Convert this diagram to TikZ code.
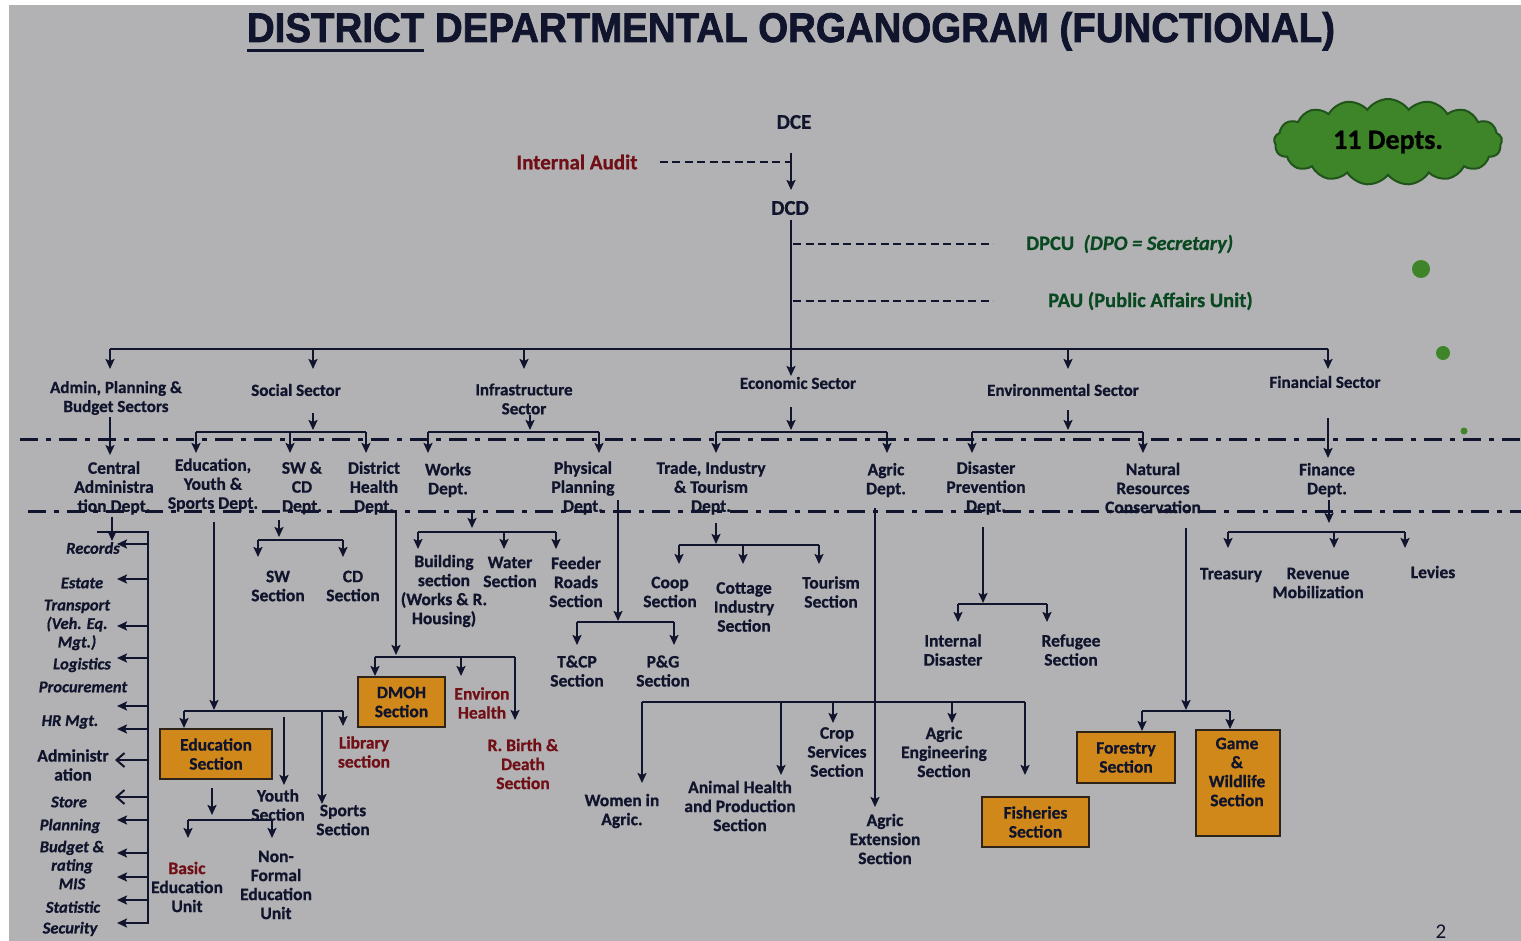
\documentclass[tikz,border=0pt]{standalone}
\usepackage{fontspec}
\usepackage{graphicx}
\setmainfont{Carlito}[BoldFeatures={FakeBold=0.8}, BoldItalicFeatures={FakeBold=0.8}]
\newfontfamily\headfont{Liberation Sans}[BoldFeatures={FakeBold=1.8}]
\usetikzlibrary{arrows.meta,shapes.symbols}

\definecolor{ink}{RGB}{16,20,44}
\definecolor{bg}{RGB}{178,178,180}
\definecolor{boxor}{RGB}{208,136,26}
\definecolor{boxedge}{RGB}{45,35,25}
\definecolor{redtx}{RGB}{112,16,22}
\definecolor{grntx}{RGB}{10,72,34}
\definecolor{cloudg}{RGB}{62,132,40}
\definecolor{cloude}{RGB}{32,84,26}

% underline used for the first word of the heading
\newcommand{\ulword}[1]{\setbox0\hbox{#1}\rlap{\rule[-9.5pt]{\wd0}{3pt}}\box0\relax}

\tikzset{
  lbl/.style={font=\fontsize{17.5}{19}\selectfont\bfseries, text=ink, align=center, inner sep=0pt},
  seclbl/.style={font=\fontsize{17}{19}\selectfont\bfseries, text=ink, align=center, inner sep=0pt},
  itm/.style={font=\fontsize{16.5}{18.5}\selectfont\bfseries\itshape, text=ink, align=center, inner sep=0pt},
  redlbl/.style={lbl, text=redtx},
  hdr/.style={font=\fontsize{21}{24}\selectfont\bfseries, text=ink, inner sep=0pt},
  grn/.style={font=\fontsize{20.5}{22}\selectfont\bfseries, text=grntx, inner sep=0pt, anchor=west},
  obox/.style={lbl, fill=boxor, draw=boxedge, line width=2pt},
  conn/.style={draw=ink, line width=2pt},
  arr/.style={conn, -{Stealth[length=10pt,width=9pt,inset=2pt]}},
  barb/.style={conn, -{Straight Barb[length=8pt,width=14pt]}},
  dsh/.style={draw=ink, line width=2.5pt, dash pattern=on 8pt off 4.5pt},
  sepline/.style={draw=ink, line width=3pt, dash pattern=on 18pt off 8pt on 5pt off 8pt},
}

\begin{document}
\begin{tikzpicture}[x=1pt,y=-1pt]
\useasboundingbox (0,0) rectangle (1521,941);
\fill[white] (0,0) rectangle (1521,941);
\fill[bg] (9,5) rectangle (1521,941);

% level separators
\draw[sepline] (20,439) -- (1521,439);
\draw[sepline] (28,511) -- (1521,511);

% heading
\node[anchor=base, inner sep=0pt, text=ink] (title) at (791,42)
  {\resizebox{1088pt}{30pt}{\headfont\bfseries\fontsize{40}{44}\selectfont\ulword{DISTRICT} DEPARTMENTAL ORGANOGRAM (FUNCTIONAL)}};

% cloud and dots
\node[cloud, cloud puffs=17, cloud puff arc=110, aspect=2.6, minimum width=228pt, minimum height=86pt,
      fill=cloudg, draw=cloude, line width=2pt, inner sep=0pt,
      font=\fontsize{28}{30}\selectfont\bfseries, text=black] (depts) at (1388,142) {11 Depts.};
\fill[cloudg] (1421,269) circle (9);
\fill[cloudg] (1443,353) circle (7);
\fill[cloudg] (1464,431) circle (3.5);

% top of the chart
\node[hdr] (dce) at (794,122) {DCE};
\node[hdr] (dcd) at (790,208) {DCD};
\node[hdr, text=redtx] (audit) at (577,162) {Internal Audit};
\node[grn] (dpcu) at (1026,244) {DPCU\ \ \textit{(DPO = Secretary)}};
\node[grn] (pau) at (1048,301) {PAU (Public Affairs Unit)};

\coordinate (ja) at (791,153);
\coordinate (jb) at (791,220);
\coordinate (econtip) at (791,376);
\draw[dsh] ([xshift=22pt]audit.east) -- (audit.east -| ja);
\draw[arr] (ja) -- ++(0,37);
\draw[arr] (jb) -- (econtip);
\draw[dsh] (jb |- dpcu.west) ++(2,0) -- ([xshift=-33pt]dpcu.west);
\draw[dsh] (jb |- pau.west) ++(2,0) -- ([xshift=-55pt]pau.west);

% sectors
\node[seclbl] (admin) at (116,398) {Admin, Planning \&\\Budget Sectors};
\node[seclbl] (social) at (296,390) {Social Sector};
\node[seclbl] (infra) at (524,399) {Infrastructure\\Sector};
\node[seclbl] (econ) at (798,383) {Economic Sector};
\node[seclbl] (env) at (1063,390) {Environmental Sector};
\node[seclbl] (fin) at (1325,382) {Financial Sector};

\coordinate (sbL) at (110,349);
\coordinate (sbR) at (1328,349);
\draw[conn] (sbL) -- (sbR);
\draw[arr] (sbL) -- ++(0,20);
\draw[arr] (313,349) -- ++(0,20);
\draw[arr] (524,349) -- ++(0,20);
\draw[arr] (1068,349) -- ++(0,20);
\draw[arr] (sbR) -- ++(0,20);

% departments
\node[lbl] (central) at (114,488) {Central\\Administra\\tion Dept.};
\node[lbl] (edu) at (213,485) {Education,\\Youth \&\\Sports Dept.};
\node[lbl] (swcd) at (302,488) {SW \&\\CD\\Dept.};
\node[lbl] (dhealth) at (374,488) {District\\Health\\Dept.};
\node[lbl] (works) at (448,480) {Works\\Dept.};
\node[lbl] (phys) at (583,488) {Physical\\Planning\\Dept.};
\node[lbl] (trade) at (711,488) {Trade, Industry\\\& Tourism\\Dept.};
\node[lbl] (agric) at (886,480) {Agric\\Dept.};
\node[lbl] (disaster) at (986,488) {Disaster\\Prevention\\Dept.};
\node[lbl] (natres) at (1153,488) {Natural\\Resources\\Conservation};
\node[lbl] (finance) at (1327,480) {Finance\\Dept.};

% sector to department links
\draw[arr] (admin.south -| sbL) ++(0,2) -- ++(0,38);
\draw[arr] (313,413) -- ++(0,17);
\draw[conn] (196,432) -- (366,432);
\foreach \xx in {196,290,366} \draw[arr] (\xx,432) -- ++(0,21);
\draw[arr] (530,415) -- ++(0,15);
\draw[conn] (428,432) -- (599,432);
\foreach \xx in {428,599} \draw[arr] (\xx,432) -- ++(0,21);
\draw[arr] (791,407) -- ++(0,23);
\draw[conn] (716,432) -- (887,432);
\foreach \xx in {716,887} \draw[arr] (\xx,432) -- ++(0,21);
\draw[arr] (1068,410) -- ++(0,20);
\draw[conn] (972,432) -- (1143,432);
\foreach \xx in {972,1143} \draw[arr] (\xx,432) -- ++(0,21);
\draw[arr] (1328,418) -- ++(0,40);

% central administration units
\node[itm] (records) at (93,548) {Records};
\node[itm] (estate) at (82,583) {Estate};
\node[itm] (transport) at (77,625) {Transport\\(Veh. Eq.\\Mgt.)};
\node[itm] (logistics) at (82,665) {Logistics};
\node[itm] (procure) at (83,687) {Procurement};
\node[itm] (hrmgt) at (70,722) {HR Mgt.};
\node[lbl] (adminis) at (73,765) {Administr\\ation};
\node[itm] (store) at (69,802) {Store};
\node[itm] (planning) at (70,826) {Planning};
\node[itm] (budget) at (72,865) {Budget \&\\rating\\MIS};
\node[itm] (statistic) at (73,907) {Statistic};
\node[itm] (security) at (70,929) {Security};

\coordinate (cspine) at (148,532);
\draw[arr] (central.south -| 112,0) ++(0,2) -- (112,541);
\draw[conn] (97,532) -- (cspine) -- (148,924);
\foreach \yy in {544,579,626,658,706,729,820,853,877,900,923}
  \draw[arr] (148,\yy) -- (117,\yy);
\foreach \yy in {760,797}
  \draw[barb] (148,\yy) -- (115,\yy);

% education, youth and sports
\node[obox, minimum width=112pt, minimum height=50pt] (edubox) at (216,754) {Education\\Section};
\node[redlbl] (library) at (364,752) {Library\\section};
\node[lbl] (youth) at (278,805) {Youth\\Section};
\node[lbl] (sports) at (343,820) {Sports\\Section};
\node[lbl] (basic) at (187,887) {\textcolor{redtx}{Basic}\\Education\\Unit};
\node[lbl] (nonformal) at (276,885) {Non-\\Formal\\Education\\Unit};

\draw[arr] (214,522) -- (214,710);
\draw[conn] (184,711) -- (343,711);
\draw[arr] (184,711) -- (184,711 |- edubox.north);
\draw[arr] (343,711) -- ++(0,15);
\draw[arr] (284,717) -- ++(0,68);
\draw[arr] (322,711) -- ++(0,93);
\draw[arr] (edubox.south -| 212,0) ++(0,8) -- (212,815);
\draw[conn] (188,820) -- (272,820);
\foreach \xx in {188,272} \draw[arr] (\xx,820) -- ++(0,18);

% social welfare and community development
\node[lbl] (swsec) at (278,586) {SW\\Section};
\node[lbl] (cdsec) at (353,586) {CD\\Section};
\draw[arr] (279,520) -- ++(0,17);
\draw[conn] (258,540) -- (343,540);
\foreach \xx in {258,343} \draw[arr] (\xx,540) -- ++(0,17);

% district health
\node[obox, minimum width=87pt, minimum height=50pt] (dmoh) at (401.5,702) {DMOH\\Section};
\node[redlbl] (environ) at (482,703) {Environ\\Health};
\node[redlbl] (rbirth) at (523,764) {R. Birth \&\\Death\\Section};
\draw[arr] (396,511) -- (396,655);
\draw[conn] (375,657) -- (515,657);
\draw[arr] (375,657) -- (375,657 |- dmoh.north);
\draw[arr] (461,657) -- ++(0,19);
\draw[arr] (515,657) -- ++(0,63);

% works
\node[lbl] (building) at (444,591) {Building\\section\\(Works \& R.\\Housing)};
\node[lbl] (water) at (510,572) {Water\\Section};
\node[lbl] (feeder) at (576,582) {Feeder\\Roads\\Section};
\draw[arr] (472,512) -- ++(0,16);
\draw[conn] (418,532) -- (556,532);
\foreach \xx in {418,504,556} \draw[arr] (\xx,532) -- ++(0,17);

% physical planning
\node[lbl] (tcp) at (577,671) {T\&CP\\Section};
\node[lbl] (pg) at (663,671) {P\&G\\Section};
\draw[arr] (618,500) -- (618,621);
\draw[conn] (577,622) -- (674,622);
\foreach \xx in {577,674} \draw[arr] (\xx,622) -- ++(0,23);

% trade, industry and tourism
\node[lbl] (coop) at (670,592) {Coop\\Section};
\node[lbl] (cottage) at (744,607) {Cottage\\Industry\\Section};
\node[lbl] (tourism) at (831,592) {Tourism\\Section};
\draw[arr] (716,523) -- (716,544);
\draw[conn] (679,545) -- (819,545);
\foreach \xx in {679,743,819} \draw[arr] (\xx,545) -- ++(0,19);

% agriculture
\node[lbl] (women) at (622,811) {Women in\\Agric.};
\node[lbl] (animal) at (740,806) {Animal Health\\and Production\\Section};
\node[lbl] (crop) at (837,752) {Crop\\Services\\Section};
\node[lbl] (agreng) at (944,752) {Agric\\Engineering\\Section};
\node[lbl] (agrext) at (885,839) {Agric\\Extension\\Section};
\node[obox, minimum width=107pt, minimum height=50pt] (fisheries) at (1035.5,822) {Fisheries\\Section};
\draw[arr] (875,508) -- (875,807);
\draw[conn] (642,702) -- (1025,702);
\draw[arr] (642,702) -- ++(0,81);
\draw[arr] (781,702) -- ++(0,73);
\draw[arr] (833,702) -- ++(0,21);
\draw[arr] (952,702) -- ++(0,21);
\draw[arr] (1025,702) -- ++(0,73);

% disaster prevention
\node[lbl] (intdis) at (953,650) {Internal\\Disaster};
\node[lbl] (refugee) at (1071,650) {Refugee\\Section};
\draw[arr] (983,527) -- (983,603);
\draw[conn] (958,604) -- (1047,604);
\foreach \xx in {958,1047} \draw[arr] (\xx,604) -- ++(0,18);

% natural resources conservation
\node[obox, minimum width=98pt, minimum height=51pt] (forestry) at (1126,757.5) {Forestry\\Section};
\node[obox, minimum width=84pt, minimum height=106pt] (game) at (1238,783) {};
\node[lbl] (gametext) at (1237,772) {Game\\\&\\Wildlife\\Section};
\draw[arr] (1186,528) -- (1186,710);
\draw[conn] (1142,711) -- (1230,711);
\draw[arr] (1142,711) -- (1142,711 |- forestry.north);
\draw[arr] (1230,711) -- (1230,711 |- game.north);

% finance
\node[lbl] (treasury) at (1231,575) {Treasury};
\node[lbl] (revenue) at (1318,583) {Revenue\\Mobilization};
\node[lbl] (levies) at (1433,572) {Levies};
\draw[arr] (1329,500) -- ++(0,23);
\draw[conn] (1228,532) -- (1405,532);
\foreach \xx in {1228,1334,1405} \draw[arr] (\xx,532) -- ++(0,16);

% page number
\node[font=\fontsize{21}{23}\selectfont, text=ink, inner sep=0pt] (pagenum) at (1441,932) {2};
\end{tikzpicture}
\end{document}
